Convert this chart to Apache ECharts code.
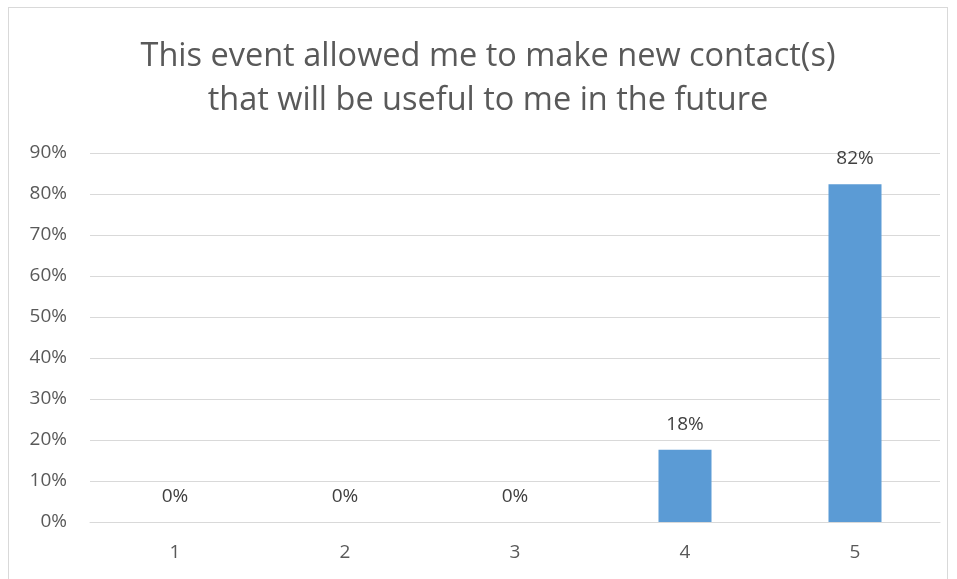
<!DOCTYPE html>
<html>
<head>
<meta charset="utf-8">
<script src="https://cdn.jsdelivr.net/npm/echarts@6/dist/echarts.min.js"></script>
<style>
  html, body { margin: 0; padding: 0; background: #fff; }
  #chart { width: 957px; height: 579px; }
  .frame { position: absolute; left: 8px; top: 7px; width: 940px; height: 600px; border: 1px solid #d9d9d9; box-sizing: border-box; pointer-events: none; }
</style>
</head>
<body>
<div id="chart"></div>
<div class="frame"></div>
<script>
// 图表数据
const categories = ['1', '2', '3', '4', '5'];
const percentValues = [0, 0, 0, 17.6, 82.4];
const yTicks = [0, 10, 20, 30, 40, 50, 60, 70, 80, 90];

const titleText = 'This event allowed me to make new contact(s)\nthat will be useful to me in the future';

const chart = echarts.init(document.getElementById('chart'));

const option = {
  backgroundColor: 'transparent',
  animation: false,
  title: {
    text: titleText,
    left: 488,
    top: 35,
    padding: 0,
    textAlign: 'center',
    textStyle: {
      color: '#595959',
      fontFamily: 'Open Sans',
      fontSize: 32.5,
      fontWeight: 'normal',
      lineHeight: 44
    }
  },
  grid: {
    left: 90,
    right: 17,
    top: 153,
    bottom: 57
  },
  xAxis: {
    type: 'category',
    data: categories,
    axisTick: { show: false },
    axisLine: { lineStyle: { color: '#d9d9d9', width: 1 } },
    axisLabel: {
      color: '#595959',
      fontFamily: 'Open Sans',
      fontSize: 19,
      margin: 21
    }
  },
  yAxis: {
    type: 'value',
    min: yTicks[0],
    max: yTicks[yTicks.length - 1],
    interval: 10,
    axisLine: { show: false },
    axisTick: { show: false },
    axisLabel: {
      formatter: '{value}%',
      color: '#595959',
      fontFamily: 'Open Sans',
      fontSize: 19,
      margin: 23
    },
    splitLine: { lineStyle: { color: '#d9d9d9', width: 1 } }
  },
  series: [
    {
      type: 'bar',
      data: percentValues,
      barWidth: 53,
      itemStyle: { color: '#5b9bd5' },
      label: {
        show: true,
        position: 'top',
        distance: 16,
        color: '#404040',
        fontFamily: 'Open Sans',
        fontSize: 19,
        formatter: p => Math.round(p.value) + '%'
      }
    }
  ]
};

chart.setOption(option);
</script>
</body>
</html>
